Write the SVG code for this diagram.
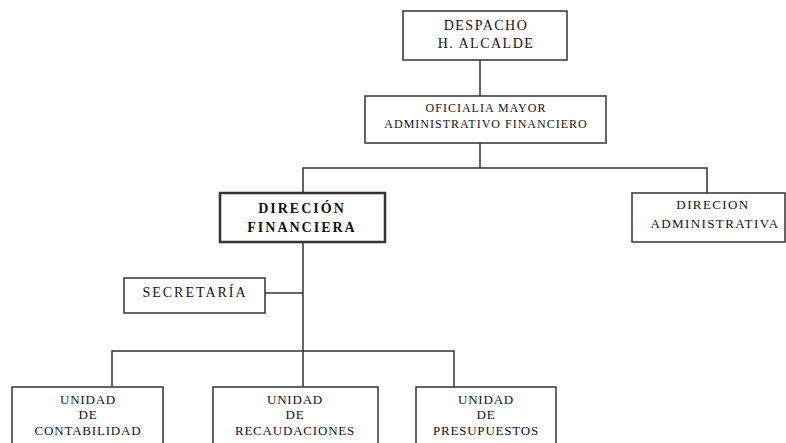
<svg xmlns="http://www.w3.org/2000/svg" width="786" height="443" viewBox="0 0 786 443">
  <style>
    .box { fill: #ffffff; stroke: #333333; stroke-width: 1.5; }
    .box-strong { fill: #ffffff; stroke: #333333; stroke-width: 2.5; }
    .wire { fill: none; stroke: #333333; stroke-width: 1.5; }
    text { font-family: "Liberation Serif", "Times New Roman", serif; fill: #111118; text-anchor: middle; }
    .t14 { font-size: 14px; letter-spacing: 1.5px; }
    .t13 { font-size: 13px; letter-spacing: 0.8px; }
    .t12 { font-size: 12px; letter-spacing: 1px; }
    .wide { letter-spacing: 1.4px; }
    .bold { font-size: 14px; font-weight: bold; letter-spacing: 2px; }
  </style>
  <rect width="786" height="443" fill="#ffffff"/>

  <g id="connectors">
    <path class="wire" d="M480 60 V96"/>
    <path class="wire" d="M480 143 V168"/>
    <path class="wire" d="M303 193 V168 H707 V193"/>
    <path class="wire" d="M303 242 V387"/>
    <path class="wire" d="M265 293 H303"/>
    <path class="wire" d="M112 387 V351 H454 V387"/>
  </g>

  <g id="despacho">
    <rect class="box" x="403" y="11" width="164" height="49"/>
    <text class="t14" x="486" y="30">DESPACHO</text>
    <text class="t14" x="486" y="48">H. ALCALDE</text>
  </g>

  <g id="oficialia">
    <rect class="box" x="365" y="96" width="241" height="47"/>
    <text class="t12" x="486" y="112">OFICIALIA MAYOR</text>
    <text class="t12" x="486" y="128">ADMINISTRATIVO FINANCIERO</text>
  </g>

  <g id="direccion-financiera">
    <rect class="box-strong" x="220" y="193" width="165" height="49"/>
    <text class="bold" x="302" y="213">DIRECIÓN</text>
    <text class="bold" x="302" y="232">FINANCIERA</text>
  </g>

  <g id="direccion-administrativa">
    <rect class="box" x="632" y="193" width="153" height="49"/>
    <text class="t13 wide" x="713" y="209">DIRECION</text>
    <text class="t13 wide" x="715" y="228">ADMINISTRATIVA</text>
  </g>

  <g id="secretaria">
    <rect class="box" x="124" y="278" width="141" height="35"/>
    <text class="t14" x="195" y="297" style="letter-spacing:2px">SECRETARÍA</text>
  </g>

  <g id="unidad-contabilidad">
    <rect class="box" x="12" y="387" width="151" height="70"/>
    <text class="t13" x="88" y="404">UNIDAD</text>
    <text class="t13" x="88" y="419">DE</text>
    <text class="t13" x="88" y="435">CONTABILIDAD</text>
  </g>

  <g id="unidad-recaudaciones">
    <rect class="box" x="213" y="387" width="165" height="70"/>
    <text class="t13" x="295" y="404">UNIDAD</text>
    <text class="t13" x="295" y="419">DE</text>
    <text class="t13" x="295" y="435">RECAUDACIONES</text>
  </g>

  <g id="unidad-presupuestos">
    <rect class="box" x="416" y="387" width="140" height="70"/>
    <text class="t13" x="486" y="404">UNIDAD</text>
    <text class="t13" x="486" y="419">DE</text>
    <text class="t13" x="486" y="435">PRESUPUESTOS</text>
  </g>
</svg>
